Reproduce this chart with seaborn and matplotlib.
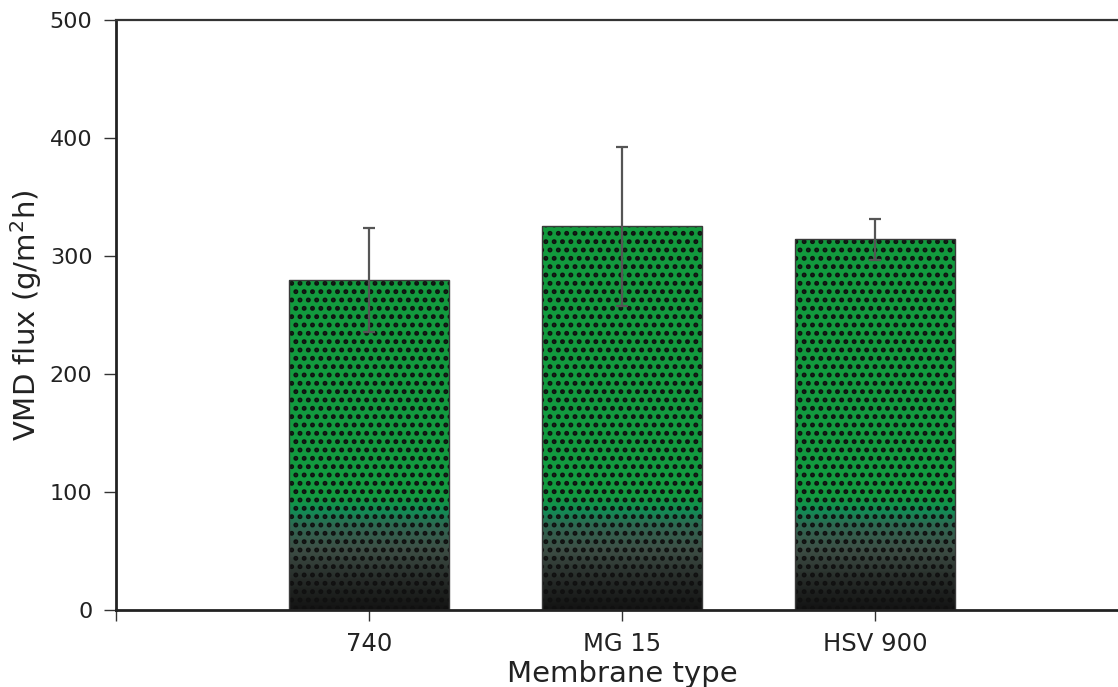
import numpy as np
import pandas as pd
import matplotlib
matplotlib.use('Agg')
import matplotlib.pyplot as plt
import seaborn as sns
from matplotlib.colors import LinearSegmentedColormap
from matplotlib.patches import Rectangle

membranes = ['740', 'MG 15', 'HSV 900']
flux = [280, 325, 314]
flux_err = [44, 67, 17]
yticks = [0, 100, 200, 300, 400, 500]


def plot_bars():
    df = pd.DataFrame({'membrane': membranes, 'flux': flux})

    sns.set_style('ticks')
    plt.rcParams['font.family'] = ['DejaVu Sans']
    plt.rcParams['hatch.linewidth'] = 2.3

    fig = plt.figure(figsize=(11.18, 6.87), dpi=100)
    ax = fig.add_axes([0.1038, 0.112, 0.905, 0.859])

    sns.barplot(x='membrane', y='flux', data=df, color='#129a3c', width=0.63,
                errorbar=None, ax=ax, zorder=1)

    # green -> black fade near the base of each bar
    cmap = LinearSegmentedColormap.from_list('fade', [
        (0.0, '#141414'), (0.05, '#262b28'), (0.10, '#3d4e45'),
        (0.14, '#2f6650'), (0.165, '#138a55'), (0.19, '#129a40'), (1.0, '#129a3c')])
    grad = np.linspace(0, 1, 256).reshape(-1, 1)
    for p in list(ax.patches):
        x0, y0 = p.get_x(), p.get_y()
        w, h = p.get_width(), p.get_height()
        top = h / 500.0
        img = ax.imshow(grad * top, cmap=cmap, vmin=0, vmax=1, aspect='auto',
                        origin='lower', extent=(x0, x0 + w, y0, y0 + h),
                        zorder=1.5, interpolation='bilinear')
        img.set_clip_path(p)
        ax.add_patch(Rectangle((x0, y0), w, h, facecolor='none',
                               edgecolor='#101010', linewidth=0, hatch='..', zorder=2))
        ax.add_patch(Rectangle((x0, y0), w, h, facecolor='none',
                               edgecolor='#3a3a3a', linewidth=1.0, zorder=2.5))

    ax.errorbar(range(len(membranes)), flux, yerr=flux_err, fmt='none',
                ecolor='#555555', elinewidth=1.6, capsize=4, capthick=1.6, zorder=3)

    ax.set_xlim(-1, 3)
    ax.set_ylim(0, 500)
    ax.set_yticks(yticks)
    ax.set_xticks([-1, 0, 1, 2])
    ax.set_xticklabels([''] + membranes)
    ax.tick_params(axis='both', colors='#333333', labelcolor='#222222', width=1.0)
    ax.tick_params(axis='y', length=9, pad=8, labelsize=16)
    ax.tick_params(axis='x', length=8, pad=8, labelsize=17.5)

    for side in ['left', 'bottom']:
        ax.spines[side].set_linewidth(2.0)
        ax.spines[side].set_color('#222222')
    ax.spines['top'].set_linewidth(1.6)
    ax.spines['top'].set_color('#333333')
    ax.spines['right'].set_visible(False)

    ax.set_xlabel('Membrane type', fontsize=21, color='#222222', labelpad=3)
    ax.set_ylabel('VMD flux (g/m$^2$h)', fontsize=21, color='#222222', labelpad=4)

    plt.savefig('out.png', dpi=100)


if __name__ == '__main__':
    plot_bars()
